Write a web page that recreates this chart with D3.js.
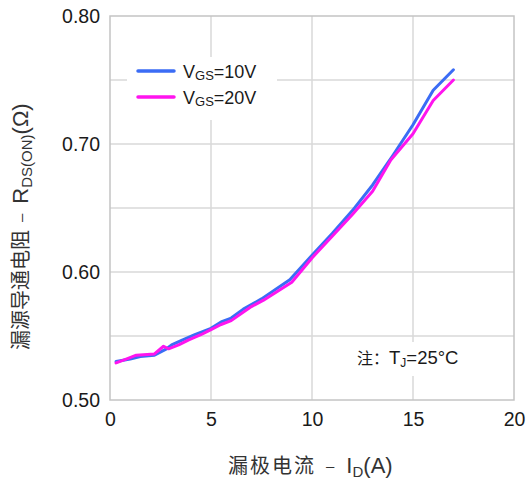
<!DOCTYPE html>
<html>
<head>
<meta charset="utf-8">
<script src="https://cdn.jsdelivr.net/npm/d3@7"></script>
<style>
  body { margin: 0; background: #fff; }
  text { font-family: "Liberation Sans", Arial, sans-serif; }
</style>
</head>
<body>
<svg id="chart" width="527" height="479"></svg>
<script>
// Chart data
var xTicks = [0, 5, 10, 15, 20];
var yTicks = [0.50, 0.60, 0.70, 0.80];
var yGrid = [0.55, 0.60, 0.65, 0.70, 0.75];
var xGrid = [5, 10, 15];

var id10 = [0.3, 1.0, 1.5, 2.2, 2.8, 3.05, 3.6, 4.2, 5.0, 5.5, 6.0, 6.6, 7.5, 8.9, 10, 11, 12, 13, 14, 15, 16, 17];
var rds10 = [0.530, 0.532, 0.534, 0.535, 0.540, 0.543, 0.547, 0.551, 0.556, 0.561, 0.564, 0.571, 0.579, 0.594, 0.613, 0.630, 0.648, 0.668, 0.691, 0.715, 0.742, 0.758];

var id20 = [0.3, 0.8, 1.3, 2.2, 2.65, 2.9, 3.4, 3.9, 4.5, 5.0, 5.5, 6.0, 7.0, 7.6, 9.0, 10, 11, 12, 13, 13.9, 15, 16, 17];
var rds20 = [0.529, 0.532, 0.535, 0.536, 0.542, 0.540, 0.543, 0.547, 0.551, 0.555, 0.559, 0.562, 0.573, 0.578, 0.592, 0.611, 0.628, 0.645, 0.663, 0.6875, 0.708, 0.734, 0.750];

var seriesNames = ["10V", "20V"];
var seriesColors = ["#3b6cf5", "#ff14ee"];

//*************************************************//
// Layout
//*************************************************//
var svg = d3.select('#chart');
var margin = {top: 16, right: 13, bottom: 79, left: 110};
var width = 527 - margin.left - margin.right;
var height = 479 - margin.top - margin.bottom;

var x = d3.scaleLinear().domain([0, 20]).range([0, width]);
var y = d3.scaleLinear().domain([0.5, 0.8]).range([height, 0]);

var cjk = '"Noto Sans CJK SC", sans-serif';

var g = svg.append('g')
    .attr('transform', 'translate(' + margin.left + ',' + margin.top + ')');

// Gridlines
g.selectAll('.hgrid').data(yGrid).enter().append('line')
    .attr('x1', 0).attr('x2', width)
    .attr('y1', function(d) { return y(d); })
    .attr('y2', function(d) { return y(d); })
    .attr('stroke', '#d9d9d9').attr('stroke-width', 1.5);

g.selectAll('.vgrid').data(xGrid).enter().append('line')
    .attr('y1', 0).attr('y2', height)
    .attr('x1', function(d) { return x(d); })
    .attr('x2', function(d) { return x(d); })
    .attr('stroke', '#d9d9d9').attr('stroke-width', 1.5);

// Frame
g.append('rect')
    .attr('x', 0).attr('y', 0)
    .attr('width', width).attr('height', height)
    .attr('fill', 'none')
    .attr('stroke', '#c4c4c4').attr('stroke-width', 1.5);

// Axes (labels only)
var xAxis = g.append('g')
    .attr('transform', 'translate(0,' + height + ')')
    .call(d3.axisBottom(x).tickValues(xTicks).tickSize(0).tickPadding(12).tickFormat(d3.format('d')));
var yAxis = g.append('g')
    .call(d3.axisLeft(y).tickValues(yTicks).tickSize(0).tickPadding(10).tickFormat(d3.format('.2f')));

[xAxis, yAxis].forEach(function(a) {
    a.select('.domain').remove();
    a.selectAll('text')
        .attr('font-size', '19.5px')
        .attr('font-family', '"Liberation Sans", Arial, sans-serif')
        .attr('fill', '#1a1a1a');
});

// Legend background and note background (cover grid)
g.append('rect')
    .attr('x', 17).attr('y', 41).attr('width', 150).attr('height', 63)
    .attr('fill', '#fff');
g.append('rect')
    .attr('x', 243).attr('y', 326).attr('width', 115).attr('height', 34)
    .attr('fill', '#fff');

// Curves
var line = d3.line()
    .x(function(d) { return x(d[0]); })
    .y(function(d) { return y(d[1]); });

var data10 = id10.map(function(v, i) { return [v, rds10[i]]; });
var data20 = id20.map(function(v, i) { return [v, rds20[i]]; });

[data10, data20].forEach(function(d, i) {
    g.append('path')
        .datum(d)
        .attr('d', line)
        .attr('fill', 'none')
        .attr('stroke', seriesColors[i])
        .attr('stroke-width', 3)
        .attr('stroke-linecap', 'round')
        .attr('stroke-linejoin', 'round');
});

// Legend
seriesNames.forEach(function(name, i) {
    var ly = 55 + i * 26;
    g.append('line')
        .attr('x1', 28).attr('x2', 64)
        .attr('y1', ly).attr('y2', ly)
        .attr('stroke', seriesColors[i]).attr('stroke-width', 3.5)
        .attr('stroke-linecap', 'round');
    var t = g.append('text')
        .attr('x', 73).attr('y', ly + 6.5)
        .attr('font-size', '18px')
        .attr('fill', '#1a1a1a');
    t.append('tspan').text('V');
    t.append('tspan').attr('font-size', '13px').attr('dy', 2).text('GS');
    t.append('tspan').attr('dy', -2).text('=' + name);
});

// Note
var note = g.append('text')
    .attr('x', 247).attr('y', 348)
    .attr('font-size', '18.5px')
    .attr('fill', '#1a1a1a');
note.append('tspan').attr('font-family', cjk).attr('font-size', '16px').text('注：');
note.append('tspan').text('T');
note.append('tspan').attr('font-size', '12px').attr('dy', 3).text('J');
note.append('tspan').attr('dy', -3).text('=25°C');

// Axis titles
var xTitle = svg.append('text')
    .attr('x', 228).attr('y', 473)
    .attr('font-size', '22px')
    .attr('fill', '#333');
xTitle.append('tspan').attr('font-family', cjk).attr('font-size', '20px').attr('letter-spacing', '2px').text('漏极电流');
xTitle.append('tspan').attr('dx', 10).attr('font-size', '15px').attr('dy', -2).text('–');
xTitle.append('tspan').attr('dx', 12).attr('dy', 2).text('I');
xTitle.append('tspan').attr('font-size', '15px').attr('dy', 4).text('D');
xTitle.append('tspan').attr('dy', -4).text('(A)');

var yTitle = svg.append('text')
    .attr('transform', 'translate(28,350) rotate(-90)')
    .attr('font-size', '22px')
    .attr('fill', '#333');
yTitle.append('tspan').attr('font-family', cjk).attr('font-size', '20px').text('漏源导通电阻');
yTitle.append('tspan').attr('dx', 8).attr('font-size', '15px').attr('dy', -2).text('–');
yTitle.append('tspan').attr('dx', 10).attr('dy', 2).text('R');
yTitle.append('tspan').attr('font-size', '15px').attr('dy', 4).text('DS(ON)');
yTitle.append('tspan').attr('dy', -4).text('(Ω)');
</script>
</body>
</html>
